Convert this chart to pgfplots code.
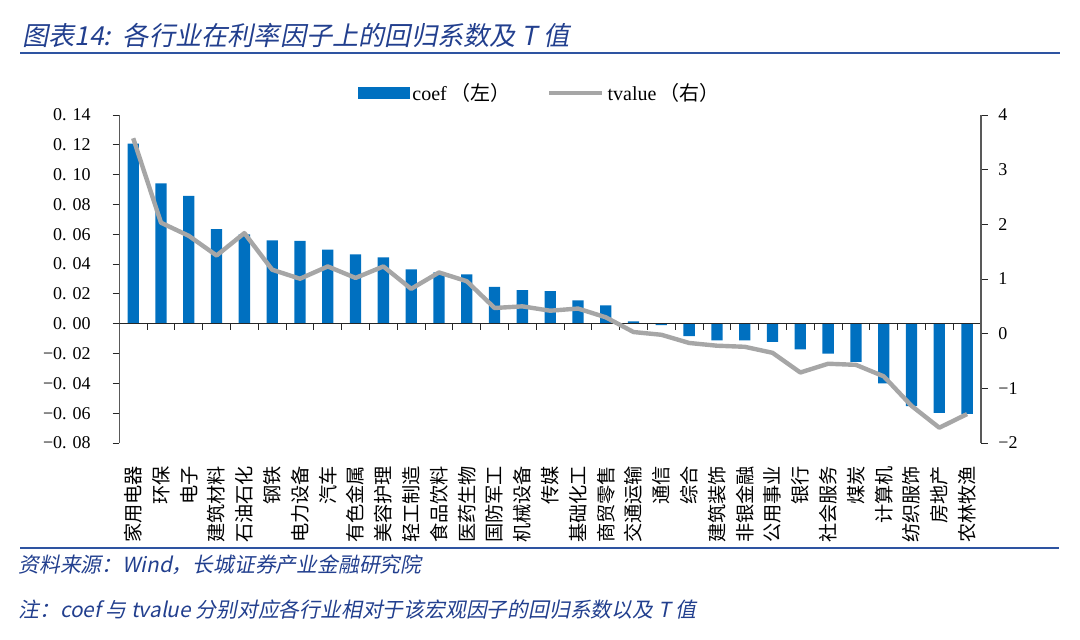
\documentclass[border=0pt]{standalone}
\usepackage{fontspec}
\usepackage{pgfplots}
\usepackage{pgfplotstable}
\pgfplotsset{compat=1.18}
\setmainfont{Liberation Serif}
\newfontfamily\cjk{Noto Sans CJK SC}
\newfontfamily\cjkit[FakeSlant=0.2]{Noto Sans CJK SC}

\definecolor{barblue}{HTML}{0070C0}
\definecolor{tgray}{HTML}{A6A6A6}
\definecolor{titleblue}{HTML}{223F8E}
\definecolor{ruleblue}{HTML}{2E54A1}

% idx coef tvalue, in the order of the chart
\pgfplotstableread{
idx coef tvalue
1 0.1208 3.575
2 0.0942 2.03
3 0.0857 1.79
4 0.0635 1.43
5 0.0600 1.84
6 0.0559 1.17
7 0.0555 1.005
8 0.0497 1.23
9 0.0465 1.02
10 0.0445 1.23
11 0.0365 0.82
12 0.0345 1.12
13 0.0331 0.96
14 0.0248 0.47
15 0.0226 0.50
16 0.0219 0.42
17 0.0157 0.46
18 0.0123 0.30
19 0.0016 0.03
20 -0.0010 -0.02
21 -0.0083 -0.17
22 -0.0112 -0.22
23 -0.0112 -0.24
24 -0.0121 -0.35
25 -0.0172 -0.71
26 -0.0201 -0.55
27 -0.0255 -0.57
28 -0.0400 -0.78
29 -0.0553 -1.32
30 -0.0597 -1.72
31 -0.0604 -1.47
}\industry

\pgfplotsset{
  frame/.style={
    at={(59.65pt,-221.5pt)}, anchor=south west,
    scale only axis, width=430.85pt, height=164pt,
    xmin=0.5, xmax=31.5,
    axis line style={-, black!65, line width=0.6pt},
    tick align=outside, major tick length=3.3pt,
    tick style={black!85, line width=0.5pt},
  }
}

\begin{document}
\begin{tikzpicture}
\path[use as bounding box] (0,0) rectangle (540pt,-319.5pt);

\node[anchor=west, inner sep=0pt, text=titleblue, font=\cjkit\fontsize{13.1}{15}\selectfont]
  at (11pt,-17.5pt) {图表14:~~各行业在利率因子上的回归系数及~T~值};
\draw[ruleblue, line width=1.1pt] (10pt,-26.65pt) -- (530pt,-26.65pt);

\begin{axis}[
  frame,
  ymin=-0.08, ymax=0.14,
  axis y line*=left, axis x line*=bottom,
  x axis line style={draw=none},
  xtick={1,...,31}, major x tick style={draw=none},
  xticklabels={家用电器,环保,电子,建筑材料,石油石化,钢铁,电力设备,汽车,有色金属,美容护理,
    轻工制造,食品饮料,医药生物,国防军工,机械设备,传媒,基础化工,商贸零售,交通运输,通信,
    综合,建筑装饰,非银金融,公用事业,银行,社会服务,煤炭,计算机,纺织服饰,房地产,农林牧渔},
  xticklabel style={font=\cjk\fontsize{9.6}{10}\selectfont, rotate=90, anchor=east,
    inner sep=0pt},
  xticklabel shift=8pt,
  ytick={-0.08,-0.06,-0.04,-0.02,0,0.02,0.04,0.06,0.08,0.10,0.12,0.14},
  yticklabels={{−0. 08},{−0. 06},{−0. 04},{−0. 02},{0. 00},{0. 02},{0. 04},{0. 06},
    {0. 08},{0. 10},{0. 12},{0. 14}},
  yticklabel style={font=\fontsize{9}{10}\selectfont, anchor=east, inner sep=0pt, xshift=-10.8pt},
]
\addplot[ybar, bar width=5.65pt, fill=barblue, draw=none] table[x=idx, y=coef] {\industry};
\draw[black!85, line width=0.6pt] (axis cs:0.5,0) -- (axis cs:31.5,0);
\pgfplotsinvokeforeach{1,...,30}{
  \draw[black!85, line width=0.5pt] (axis cs:#1.5,0) -- ++(0pt,-3.3pt);
}
\end{axis}

\begin{axis}[
  frame,
  ymin=-2, ymax=4,
  axis y line*=right, axis x line=none,
  ytick={-2,-1,0,1,2,3,4},
  yticklabels={−2,−1,0,1,2,3,4},
  yticklabel style={font=\fontsize{9}{10}\selectfont, anchor=west, inner sep=0pt, xshift=5.2pt},
  legend columns=2,
  legend style={draw=none, fill=none, inner sep=0pt, at={(0.4885,1.067)}, anchor=center,
    font=\fontsize{10}{12}\selectfont, nodes={inner sep=1.5pt},
    /tikz/every even column/.append style={column sep=17pt}},
]
\addlegendimage{legend image code/.code={\fill[barblue] (0pt,-2.65pt) rectangle (25.5pt,2.65pt);}}
\addlegendentry{coef\,{\cjk （左）}}
\addplot[tgray, line width=2.2pt, line join=round,
  legend image code/.code={\draw[tgray, line width=2.2pt] (0pt,0pt) -- (26.5pt,0pt);}]
  table[x=idx, y=tvalue] {\industry};
\addlegendentry{tvalue\,{\cjk （右）}}
\end{axis}

\draw[ruleblue, line width=1.1pt] (10pt,-274.15pt) -- (529.5pt,-274.15pt);
\node[anchor=west, inner sep=0pt, text=titleblue, font=\cjkit\fontsize{10.4}{12}\selectfont]
  at (9pt,-282.5pt) {资料来源：Wind，长城证券产业金融研究院};
\node[anchor=west, inner sep=0pt, text=titleblue, font=\cjkit\fontsize{10.4}{12}\selectfont]
  at (9pt,-305pt) {注：coef 与 tvalue 分别对应各行业相对于该宏观因子的回归系数以及 T 值};
\end{tikzpicture}
\end{document}
